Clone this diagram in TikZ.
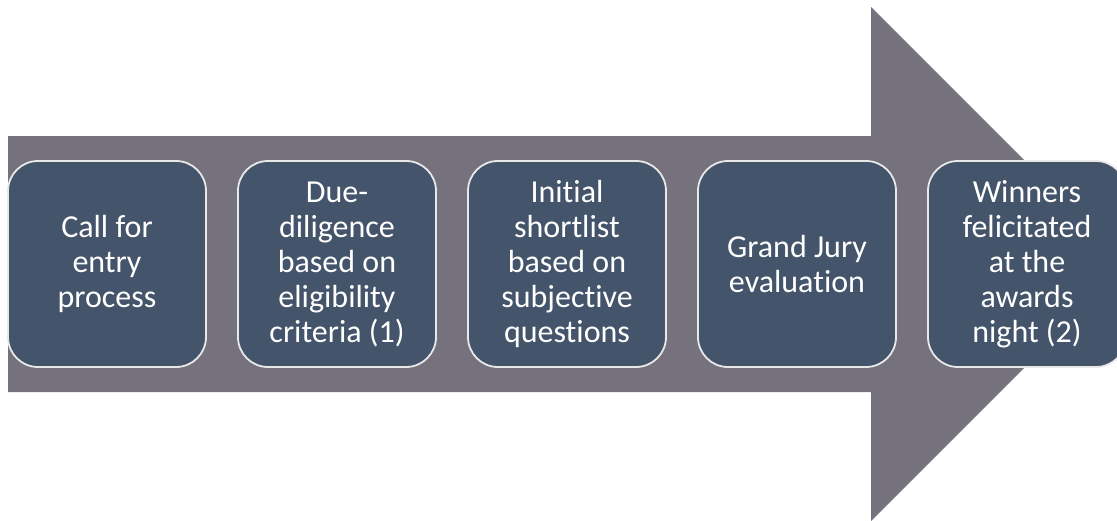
\documentclass[tikz,border=0pt]{standalone}
\usepackage{fontspec}
\setmainfont[Ligatures=NoCommon]{Carlito}
\usepackage{tikz}
\usetikzlibrary{positioning}
\definecolor{arrowgray}{RGB}{117,114,126}
\definecolor{boxblue}{RGB}{68,84,106}
\definecolor{boxline}{RGB}{232,232,232}

\begin{document}
\begin{tikzpicture}[x=1pt, y=-1pt, node distance=32pt,
		stage/.style={rectangle, rounded corners=30pt, draw=boxline, line width=1.8pt, fill=boxblue,
			text=white, align=center, inner sep=0pt, outer sep=0pt, minimum width=198pt, minimum height=206pt,
			font=\fontsize{32}{35}\selectfont}]
			\clip (0,0) rectangle (1117,520);
			
			% big arrow behind the stages
			\fill[arrowgray] (8,136) -- (871,136) -- (871,7) -- (1128,264) -- (871,521) -- (871,392) -- (8,392) -- cycle;
			
			\node[stage] (1) at (107,264) {Call for\\entry\\process};
			\node[stage, right=of 1] (2) {Due-\\diligence\\based on\\eligibility\\criteria (1)};
			\node[stage, right=of 2] (3) {Initial\\shortlist\\based on\\subjective\\questions};
			\node[stage, right=of 3] (4) {Grand Jury\\evaluation};
			\node[stage, right=of 4] (5) {Winners\\felicitated\\at the\\awards\\night (2)};
			
		\end{tikzpicture}
\end{document}
